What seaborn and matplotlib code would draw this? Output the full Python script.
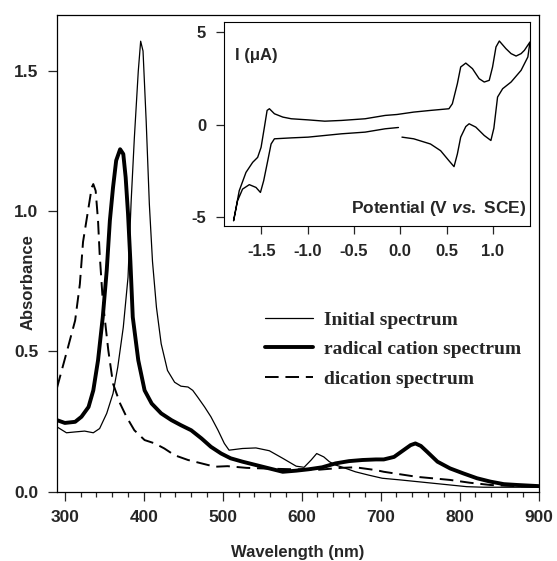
import numpy as np
import pandas as pd
import matplotlib
matplotlib.use("Agg")
import matplotlib.pyplot as plt
import seaborn as sns
from matplotlib.ticker import MultipleLocator

# UV-vis spectra
wl_init = [290, 302, 313, 325, 336, 344, 353, 361, 367, 374, 380, 384, 388, 393, 396, 399,
           403, 407, 411, 416, 422, 430, 439, 447, 456, 462, 468, 477, 485, 494, 502, 508,
           525, 542, 559, 576, 593, 603, 612, 619, 628, 635, 643, 652, 668, 685, 702, 725,
           746, 767, 788, 809, 830, 851, 873, 900]
abs_init = [0.231, 0.21, 0.213, 0.216, 0.21, 0.225, 0.279, 0.35, 0.444, 0.586, 0.764, 1.037,
            1.26, 1.499, 1.605, 1.57, 1.32, 1.025, 0.82, 0.657, 0.527, 0.432, 0.39, 0.376,
            0.373, 0.361, 0.338, 0.302, 0.267, 0.219, 0.172, 0.148, 0.154, 0.156, 0.146,
            0.119, 0.091, 0.087, 0.113, 0.136, 0.124, 0.107, 0.095, 0.087, 0.071, 0.059,
            0.048, 0.042, 0.036, 0.030, 0.024, 0.018, 0.016, 0.016, 0.016, 0.016]

wl_rad = [290, 300, 313, 321, 330, 336, 342, 348, 353, 357, 361, 365, 370, 374, 377, 380,
          383, 386, 393, 401, 410, 422, 435, 447, 460, 473, 485, 498, 510, 525, 542, 559,
          576, 593, 609, 626, 643, 660, 677, 694, 704, 717, 729, 738, 744, 751, 759, 772,
          788, 805, 822, 839, 856, 873, 900]
abs_rad = [0.255, 0.245, 0.249, 0.267, 0.302, 0.361, 0.468, 0.622, 0.788, 0.966, 1.084,
           1.18, 1.22, 1.203, 1.12, 0.99, 0.82, 0.622, 0.468, 0.361, 0.314, 0.279, 0.255,
           0.237, 0.219, 0.19, 0.16, 0.136, 0.119, 0.107, 0.095, 0.083, 0.071, 0.075, 0.08,
           0.087, 0.101, 0.109, 0.113, 0.115, 0.115, 0.124, 0.148, 0.166, 0.172, 0.163,
           0.142, 0.107, 0.083, 0.065, 0.048, 0.036, 0.027, 0.024, 0.02]

wl_dic = [290, 296, 304, 313, 319, 323, 330, 334, 336, 339, 342, 344, 348, 355, 361, 370,
          378, 388, 401, 414, 426, 439, 456, 473, 490, 506, 530, 560, 590, 620, 650, 668,
          694, 704, 746, 788, 813, 839, 870, 900]
abs_dic = [0.37, 0.432, 0.515, 0.61, 0.74, 0.89, 1.013, 1.084, 1.096, 1.072, 0.966, 0.85,
           0.681, 0.504, 0.385, 0.314, 0.267, 0.219, 0.184, 0.172, 0.154, 0.13, 0.113,
           0.101, 0.089, 0.091, 0.085, 0.082, 0.08, 0.078, 0.085, 0.087, 0.077, 0.071,
           0.053, 0.042, 0.032, 0.024, 0.02, 0.018]

# cyclic voltammogram, in scan order (starts at 0 V going positive)
cv_E = [0.018, 0.145, 0.326, 0.435, 0.525, 0.58, 0.616, 0.652, 0.707, 0.743, 0.815, 0.906,
        0.978, 1.01, 1.05, 1.105, 1.196, 1.304, 1.377, 1.40,
        1.34, 1.304, 1.25, 1.196, 1.14, 1.069, 1.033, 0.996, 0.96, 0.906, 0.851, 0.779,
        0.707, 0.652, 0.616, 0.562, 0.525, 0.326, 0.145, -0.036, -0.163, -0.38, -0.634,
        -0.815, -0.996, -1.177, -1.268, -1.359, -1.413, -1.438, -1.467, -1.503, -1.54,
        -1.594, -1.666, -1.739, -1.793, -1.80,
        -1.757, -1.703, -1.63, -1.558, -1.51, -1.475, -1.431, -1.395, -1.359, -1.177,
        -0.996, -0.815, -0.634, -0.38, -0.163, -0.02]
cv_I = [-0.68, -0.77, -1.05, -1.41, -1.95, -2.27, -1.59, -0.68, -0.11, 0.04, -0.14, -0.59,
        -0.86, -0.2, 1.48, 1.93, 2.29, 2.92, 3.64, 4.45,
        4.0, 3.82, 3.69, 3.82, 4.09, 4.50, 4.18, 3.10, 2.38, 2.29, 2.47, 3.01,
        3.31, 3.10, 2.20, 1.12, 0.85, 0.76, 0.67, 0.54, 0.49, 0.31, 0.22,
        0.18, 0.25, 0.31, 0.40, 0.58, 0.85, 0.76, -0.14, -1.23, -1.77,
        -2.04, -2.58, -3.57, -5.01, -5.19,
        -4.11, -3.48, -3.24, -3.39, -3.66, -3.03, -1.95, -1.05, -0.77, -0.72,
        -0.68, -0.59, -0.50, -0.41, -0.23, -0.16]

sns.set_style("ticks")
plt.rcParams['font.family'] = ['Liberation Sans', 'DejaVu Sans']
plt.rcParams['font.weight'] = 'bold'
plt.rcParams['axes.unicode_minus'] = False
plt.rcParams['mathtext.fontset'] = 'custom'
plt.rcParams['mathtext.it'] = 'Liberation Sans:italic:bold'
plt.rcParams['mathtext.rm'] = 'Liberation Sans:bold'

fig = plt.figure(figsize=(5.57, 5.61), dpi=100)
ax = fig.add_axes([0.1023, 0.1235, 0.8645, 0.8506])

sns.lineplot(x=wl_init, y=abs_init, sort=False, estimator=None, color='black', lw=0.9,
             label='Initial spectrum', ax=ax)
sns.lineplot(x=wl_rad, y=abs_rad, sort=False, estimator=None, color='black', lw=2.8,
             label='radical cation spectrum', ax=ax)
sns.lineplot(x=wl_dic, y=abs_dic, sort=False, estimator=None, color='black', lw=1.4,
             linestyle=(0, (7, 3.5)), label='dication spectrum', ax=ax)

ax.set_xlim(290, 900)
ax.set_ylim(0, 1.70)
ax.set_xticks(range(300, 901, 100))
ax.xaxis.set_minor_locator(MultipleLocator(20))
ax.set_yticks([0, 0.5, 1.0, 1.5])
ax.set_yticklabels(['0.0', '0.5', '1.0', '1.5'])
ax.tick_params(which='major', direction='out', length=6.5, width=0.9, pad=7, labelsize=12.5)
ax.tick_params(which='minor', direction='out', length=3.5, width=0.9)
for s in ax.spines.values():
    s.set_color('black')
    s.set_linewidth(0.9)
ax.set_xlabel('Wavelength (nm)', fontsize=12, fontweight='bold', va='top')
ax.set_ylabel('Absorbance', fontsize=12, fontweight='bold')
ax.xaxis.set_label_coords(0.5, -0.112)
ax.yaxis.set_label_coords(-0.045, 0.44)

ax.legend(loc='upper left', bbox_to_anchor=(265 / 557, (561 - 311) / 561),
          bbox_transform=fig.transFigure, frameon=False, borderpad=0, borderaxespad=0,
          handlelength=2.45, handletextpad=0.6, labelspacing=0.62,
          prop={'family': 'Liberation Serif', 'weight': 'bold', 'size': 14})

# inset: cyclic voltammogram
ins = fig.add_axes([0.4027, 0.5971, 0.5488, 0.3642])
ins.set_facecolor('white')
sns.lineplot(x=cv_E, y=cv_I, sort=False, estimator=None, color='black', lw=1.0, ax=ins)
ins.set_xlim(-1.9, 1.4)
ins.set_ylim(-5.47, 5.54)
ins.set_xticks([-1.5, -1.0, -0.5, 0.0, 0.5, 1.0])
ins.set_xticklabels(['-1.5', '-1.0', '-0.5', '0.0', '0.5', '1.0'])
ins.set_yticks([-5, 0, 5])
ins.set_yticklabels(['-5', '0', '5'])
ins.tick_params(direction='out', length=6, width=0.9, pad=7, labelsize=12)
for s in ins.spines.values():
    s.set_color('black')
    s.set_linewidth(0.8)
ins.text(0.035, 0.837, 'I (μA)', transform=ins.transAxes, ha='left', va='center',
         fontsize=12, fontweight='bold')
ins.text(0.987, 0.088, r'Potential (V $\mathit{vs.}$ SCE)', transform=ins.transAxes,
         ha='right', va='center', fontsize=12.5, fontweight='bold')

fig.savefig('out.png', dpi=100)
